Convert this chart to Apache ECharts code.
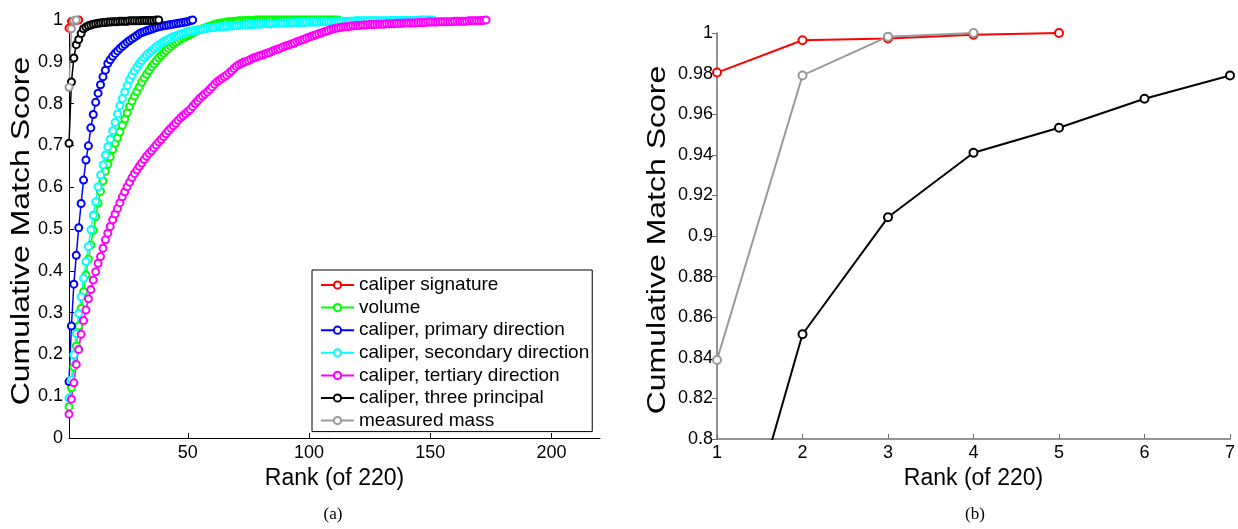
<!DOCTYPE html>
<html>
<head>
<meta charset="utf-8">
<script src="https://cdn.jsdelivr.net/npm/echarts@6/dist/echarts.min.js"></script>
<style>
  html, body { margin: 0; padding: 0; background: #fff; }
  #main { width: 1238px; height: 529px; }
</style>
</head>
<body>
<div id="main"></div>
<script>
// 各曲线的累计匹配得分，按排名 1,2,3... 依次读取
var caliperSignature = [0.9805, 0.9964, 0.9973, 0.9991, 1.0]
var volume = [
  0.075, 0.120, 0.170, 0.220, 0.268, 0.310, 0.350, 0.390, 0.428, 0.462,
  0.497, 0.530, 0.562, 0.590, 0.615, 0.638, 0.655, 0.672, 0.690, 0.705,
  0.718, 0.732, 0.748, 0.763, 0.778, 0.793, 0.806, 0.818, 0.829, 0.840,
  0.851, 0.861, 0.870, 0.879, 0.888, 0.895, 0.902, 0.909, 0.915, 0.921,
  0.927, 0.932, 0.937, 0.942, 0.946, 0.950, 0.954, 0.957, 0.960, 0.963,
  0.966, 0.969, 0.972, 0.975, 0.977, 0.979, 0.981, 0.983, 0.985, 0.987,
  0.989, 0.991, 0.992, 0.993, 0.994, 0.995, 0.996, 0.996, 0.997, 0.997,
  0.998, 0.998, 0.998, 0.999, 0.999, 0.999, 0.999, 1.000, 1.000, 1.000,
  1, 1, 1, 1, 1, 1, 1, 1, 1, 1,
  1, 1, 1, 1, 1, 1, 1, 1, 1, 1,
  1, 1, 1, 1, 1, 1, 1, 1, 1, 1,
  1, 1
]
var primaryDir = [
  0.135, 0.268, 0.368, 0.437, 0.503, 0.561, 0.617, 0.665, 0.699, 0.742,
  0.774, 0.803, 0.825, 0.845, 0.864, 0.880, 0.896, 0.905, 0.913, 0.920,
  0.926, 0.932, 0.937, 0.942, 0.947, 0.951, 0.955, 0.959, 0.963, 0.967,
  0.970, 0.972, 0.974, 0.976, 0.978, 0.980, 0.982, 0.984, 0.985, 0.986,
  0.987, 0.988, 0.989, 0.990, 0.991, 0.992, 0.993, 0.994, 0.995, 0.996,
  0.998, 1.000
]
var secondaryDir = [
  0.095, 0.139, 0.199, 0.250, 0.298, 0.338, 0.382, 0.422, 0.458, 0.498,
  0.533, 0.565, 0.601, 0.629, 0.653, 0.677, 0.697, 0.715, 0.735, 0.755,
  0.775, 0.795, 0.812, 0.828, 0.843, 0.858, 0.868, 0.878, 0.887, 0.896,
  0.903, 0.910, 0.916, 0.921, 0.926, 0.931, 0.936, 0.940, 0.944, 0.948,
  0.951, 0.954, 0.957, 0.960, 0.962, 0.964, 0.966, 0.968, 0.970, 0.972,
  0.973, 0.974, 0.975, 0.976, 0.977, 0.978, 0.979, 0.980, 0.981, 0.982,
  0.982, 0.983, 0.983, 0.984, 0.984, 0.985, 0.985, 0.986, 0.986, 0.987,
  0.987, 0.988, 0.988, 0.988, 0.989, 0.989, 0.989, 0.990, 0.990, 0.990,
  0.991, 0.991, 0.991, 0.991, 0.992, 0.992, 0.992, 0.992, 0.993, 0.993,
  0.993, 0.993, 0.993, 0.994, 0.994, 0.994, 0.994, 0.994, 0.995, 0.995,
  0.995, 0.995, 0.995, 0.995, 0.996, 0.996, 0.996, 0.996, 0.996, 0.996,
  0.997, 0.997, 0.997, 0.997, 0.997, 0.997, 0.997, 0.997, 0.998, 0.998,
  0.998, 0.998, 0.998, 0.998, 0.998, 0.998, 0.998, 0.998, 0.998, 0.998,
  0.998, 0.998, 0.998, 0.999, 0.999, 0.999, 0.999, 0.999, 0.999, 0.999,
  0.999, 0.999, 0.999, 0.999, 0.999, 1.000, 1.000, 1.000, 1.000, 1.000,
  1.000
]
var tertiaryDir = [
  0.057, 0.093, 0.132, 0.176, 0.212, 0.248, 0.281, 0.306, 0.333, 0.355,
  0.378, 0.398, 0.418, 0.434, 0.454, 0.474, 0.490, 0.506, 0.522, 0.536,
  0.549, 0.563, 0.577, 0.589, 0.601, 0.612, 0.623, 0.633, 0.641, 0.650,
  0.658, 0.666, 0.674, 0.681, 0.687, 0.694, 0.701, 0.708, 0.714, 0.721,
  0.728, 0.735, 0.741, 0.747, 0.753, 0.760, 0.766, 0.771, 0.776, 0.781,
  0.786, 0.793, 0.800, 0.806, 0.813, 0.818, 0.823, 0.828, 0.834, 0.840,
  0.846, 0.852, 0.856, 0.860, 0.864, 0.868, 0.873, 0.878, 0.884, 0.889,
  0.893, 0.896, 0.899, 0.901, 0.903, 0.906, 0.909, 0.911, 0.913, 0.915,
  0.917, 0.919, 0.921, 0.923, 0.926, 0.928, 0.930, 0.932, 0.935, 0.937,
  0.939, 0.941, 0.943, 0.945, 0.948, 0.950, 0.952, 0.954, 0.957, 0.959,
  0.961, 0.963, 0.965, 0.967, 0.969, 0.971, 0.973, 0.975, 0.977, 0.979,
  0.980, 0.981, 0.982, 0.983, 0.984, 0.984, 0.985, 0.986, 0.986, 0.987,
  0.987, 0.988, 0.988, 0.988, 0.989, 0.989, 0.989, 0.990, 0.990, 0.990,
  0.990, 0.991, 0.991, 0.991, 0.991, 0.992, 0.992, 0.992, 0.992, 0.993,
  0.993, 0.993, 0.993, 0.993, 0.994, 0.994, 0.994, 0.994, 0.995, 0.995,
  0.995, 0.995, 0.995, 0.996, 0.996, 0.996, 0.996, 0.996, 0.996, 0.997,
  0.997, 0.997, 0.997, 0.997, 0.997, 0.998, 0.998, 0.998, 0.998, 0.998,
  0.999, 0.999, 1.000
]
var threePrincipal = [
  0.705, 0.8516, 0.9092, 0.941, 0.9533, 0.9676, 0.9791, 0.983, 0.986, 0.988,
  0.990, 0.991, 0.992, 0.993, 0.994, 0.994, 0.995, 0.995, 0.996, 0.996,
  0.996, 0.997, 0.997, 0.997, 0.997, 0.998, 0.998, 0.998, 0.998, 0.998,
  0.999, 0.999, 0.999, 0.999, 0.999, 0.999, 1.000, 1.000
]
var measuredMass = [0.8389, 0.9791, 0.9982, 1.0]

var names = [
  'caliper signature',
  'volume',
  'caliper, primary direction',
  'caliper, secondary direction',
  'caliper, tertiary direction',
  'caliper, three principal',
  'measured mass'
]
var colors = ['#ff0000', '#00ff00', '#0000ff', '#00ffff', '#ff00ff', '#000000', '#999999']
var allData = [caliperSignature, volume, primaryDir, secondaryDir, tertiaryDir, threePrincipal, measuredMass]
var leftTicks = [50, 100, 150, 200]

// 把数组转成 [排名, 得分]
function toPairs(arr) {
  return arr.map(function (v, i) { return [i + 1, v] })
}

var font = "'Liberation Sans', Arial, sans-serif"
var serif = "'Liberation Serif', 'Times New Roman', serif"

var series = []
// 左图 (a)
allData.forEach(function (arr, i) {
  series.push({
    name: names[i],
    type: 'line',
    xAxisIndex: 0,
    yAxisIndex: 0,
    data: toPairs(arr),
    symbol: 'emptyCircle',
    symbolSize: 7,
    color: colors[i],
    lineStyle: { width: 1.5, color: colors[i] },
    itemStyle: { color: colors[i], borderWidth: 1.5 }
  })
})
// 右图 (b)：只画 caliper signature / three principal / measured mass
;[0, 5, 6].forEach(function (i) {
  series.push({
    name: names[i],
    type: 'line',
    xAxisIndex: 1,
    yAxisIndex: 1,
    data: toPairs(allData[i]),
    symbol: 'emptyCircle',
    symbolSize: 8,
    color: colors[i],
    lineStyle: { width: 2, color: colors[i] },
    itemStyle: { color: colors[i], borderWidth: 2 }
  })
})

var axisLine = { lineStyle: { color: '#000', width: 1 } }
var axisLineGray = { lineStyle: { color: '#6e6e6e', width: 1.5 } }
var fmt = function (v) { return String(+v.toFixed(2)) }

// 纵轴标题（原图里字体沿方向被拉长，这里用 scaleX 模拟）
function yTitle(x, y) {
  return {
    type: 'text', x: x, y: y, rotation: Math.PI / 2, scaleX: 1.28,
    style: {
      text: 'Cumulative Match Score', fontSize: 25, fontFamily: font, fill: '#000',
      textAlign: 'center', textVerticalAlign: 'middle'
    }
  }
}

var option = {
  animation: false,
  backgroundColor: '#fff',
  textStyle: { fontFamily: font },
  grid: [
    { left: 69, top: 20, width: 531, height: 418 },
    { left: 717, top: 33, width: 515, height: 406 }
  ],
  legend: {
    orient: 'vertical',
    left: 312,
    top: 270,
    data: names,
    itemWidth: 33,
    itemHeight: 9,
    itemGap: 2.6,
    padding: [5, 3, 1, 8],
    borderColor: '#000',
    borderWidth: 1,
    backgroundColor: '#fff',
    textStyle: { fontSize: 19, color: '#000', fontFamily: font, lineHeight: 20 }
  },
  xAxis: [
    {
      type: 'value',
      gridIndex: 0,
      min: 1,
      max: 220,
      name: 'Rank (of 220)',
      nameLocation: 'middle',
      nameGap: 24,
      nameTextStyle: { fontSize: 23, color: '#000' },
      axisLine: axisLine,
      axisTick: { inside: true, length: 5, lineStyle: { color: '#000' }, customValues: leftTicks },
      axisLabel: { fontSize: 18, color: '#000', margin: 6, customValues: leftTicks },
      splitLine: { show: false }
    },
    {
      type: 'value',
      gridIndex: 1,
      min: 1,
      max: 7,
      interval: 1,
      name: 'Rank (of 220)',
      nameLocation: 'middle',
      nameGap: 24,
      nameTextStyle: { fontSize: 23, color: '#000' },
      axisLine: axisLineGray,
      axisTick: { inside: true, length: 5, lineStyle: { color: '#6e6e6e' } },
      axisLabel: { fontSize: 18, color: '#000', margin: 5 },
      splitLine: { show: false }
    }
  ],
  yAxis: [
    {
      type: 'value',
      gridIndex: 0,
      min: 0,
      max: 1,
      interval: 0.1,
      axisLine: axisLine,
      axisTick: { inside: true, length: 5, lineStyle: { color: '#000' } },
      axisLabel: { fontSize: 18, color: '#000', margin: 6, formatter: fmt },
      splitLine: { show: false }
    },
    {
      type: 'value',
      gridIndex: 1,
      min: 0.8,
      max: 1,
      interval: 0.02,
      axisLine: axisLineGray,
      axisTick: { inside: false, length: 5, lineStyle: { color: '#6e6e6e' } },
      axisLabel: { fontSize: 18, color: '#000', margin: 4, formatter: fmt },
      splitLine: { show: false }
    }
  ],
  graphic: [
    yTitle(22, 231),
    yTitle(658, 240),
    {
      type: 'text', x: 333, y: 515,
      style: { text: '(a)', fontSize: 17, fontFamily: serif, fill: '#000', textAlign: 'center', textVerticalAlign: 'middle' }
    },
    {
      type: 'text', x: 975, y: 515,
      style: { text: '(b)', fontSize: 17, fontFamily: serif, fill: '#000', textAlign: 'center', textVerticalAlign: 'middle' }
    }
  ],
  series: series
}

var myChart = echarts.init(document.getElementById('main'), null, { renderer: 'canvas' })
myChart.setOption(option)
</script>
</body>
</html>
